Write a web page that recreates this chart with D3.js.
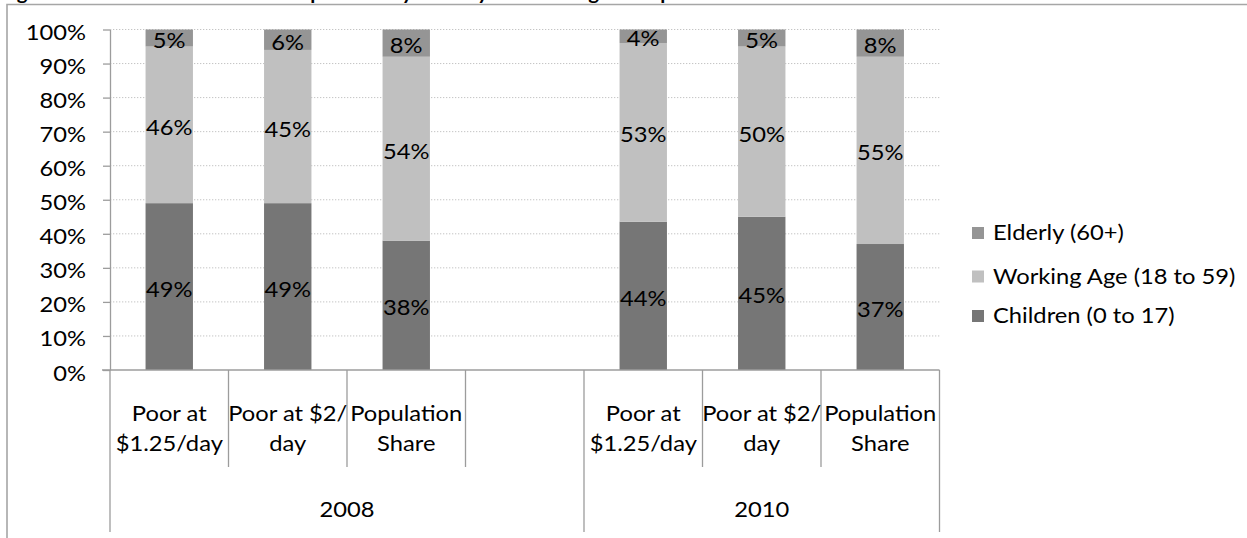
<!DOCTYPE html>
<html>
<head>
<meta charset="utf-8">
<script src="https://cdn.jsdelivr.net/npm/d3@7"></script>
<style>
  html, body { margin: 0; padding: 0; background: #fff; }
  svg { display: block; font-family: Lato, "Open Sans", sans-serif; }
</style>
</head>
<body>
<svg id="chart" width="1247" height="538"></svg>
<script>
// Age composition of the poor versus the whole population
const years = ["2008", "2010"];
const categoryLines = [["Poor at", "$1.25/day"], ["Poor at $2/", "day"], ["Population", "Share"]];
const seriesNames = ["Children (0 to 17)", "Working Age (18 to 59)", "Elderly (60+)"];
const children = [49, 49, 38, 44, 45, 37];
const working  = [46, 45, 54, 53, 50, 55];
const elderly  = [5, 6, 8, 4, 5, 8];
const yTicks = [0, 0.1, 0.2, 0.3, 0.4, 0.5, 0.6, 0.7, 0.8, 0.9, 1];
const titleText = "Figure 4: Share of the Poor and Population by Poverty Line and Age Group";

const colors = { children: "#767676", working: "#c0c0c0", elderly: "#959595" };
const FS = 21, SX = 1.13;   // label font size and horizontal stretch

// slot list: three categories per year with an empty slot between the years
const slots = [];
years.forEach((yr, gi) => {
  categoryLines.forEach((c, ci) => slots.push({ key: yr + "-" + ci, year: yr, ci }));
  if (gi < years.length - 1) slots.push({ key: "gap", year: yr, ci: -1 });
});
const rows = [];
let k = 0;
slots.forEach(s => {
  if (s.ci >= 0) {
    rows.push({ key: s.key, children: children[k], working: working[k], elderly: elderly[k] });
    k++;
  }
});

const svg = d3.select("#chart");
const plotLeft = 110, plotRight = 939.5, plotTop = 29.5, plotBottom = 370;

const x = d3.scaleBand().domain(slots.map(s => s.key)).range([plotLeft, plotRight]).padding(0);
const y = d3.scaleLinear().domain([0, 1]).range([plotBottom, plotTop]);
const barW = x.bandwidth() * 0.4;

function stretchedText(sel, tx, ty, txt, anchor) {
  return sel.append("text")
    .attr("transform", `translate(${tx},${ty}) scale(${SX},1)`)
    .attr("text-anchor", anchor || "middle")
    .attr("font-size", FS)
    .attr("fill", "#000")
    .text(txt);
}

// title (its upper part runs above the frame)
svg.append("text")
  .attr("x", 0).attr("y", 0)
  .attr("font-size", 19).attr("font-weight", "bold")
  .attr("transform", `scale(1.08,1)`)
  .text(titleText);

// outer frame
svg.append("path")
  .attr("d", "M7,538 V4.5 H1247")
  .attr("fill", "none").attr("stroke", "#a6a6a6").attr("stroke-width", 1.6);

// dotted gridlines
svg.append("g").selectAll("line").data(yTicks.slice(1)).join("line")
  .attr("x1", plotLeft).attr("x2", plotRight)
  .attr("y1", d => y(d)).attr("y2", d => y(d))
  .attr("stroke", "#c4c4c4").attr("stroke-width", 1)
  .attr("stroke-dasharray", "1.3,1.7");

// y axis
const yAxis = svg.append("g").attr("transform", `translate(${plotLeft},0)`)
  .call(d3.axisLeft(y).tickValues(yTicks).tickFormat(d3.format(".0%")).tickSize(7).tickSizeOuter(0));
yAxis.select(".domain").attr("stroke", "#9c9c9c").attr("stroke-width", 1.3);
yAxis.selectAll(".tick line").attr("stroke", "#9c9c9c").attr("stroke-width", 1.3);
yAxis.selectAll(".tick text")
  .attr("x", null).attr("dy", null)
  .attr("transform", `translate(-24,10) scale(${SX},1)`)
  .attr("font-size", FS).attr("font-family", "Lato, sans-serif").attr("fill", "#000");

// stacked 100% bars
const keys = ["children", "working", "elderly"];
const stacked = d3.stack().keys(keys).offset(d3.stackOffsetExpand)(rows);
const barG = svg.append("g");
stacked.forEach(layer => {
  const g = barG.append("g");
  g.selectAll("rect").data(layer).join("rect")
    .attr("x", d => x(d.data.key) + (x.bandwidth() - barW) / 2)
    .attr("width", barW)
    .attr("y", d => y(d[1]))
    .attr("height", d => y(d[0]) - y(d[1]))
    .attr("fill", colors[layer.key]);
  layer.forEach(d => {
    const cx = x(d.data.key) + x.bandwidth() / 2;
    const cy = (y(d[0]) + y(d[1])) / 2;
    stretchedText(g, cx, cy + 10, d.data[layer.key] + "%");
  });
});

// x axis line and category separators
const axisColor = "#9c9c9c";
svg.append("line")
  .attr("x1", 102).attr("x2", plotRight).attr("y1", plotBottom).attr("y2", plotBottom)
  .attr("stroke", axisColor).attr("stroke-width", 1.3);

const edges = slots.map(s => x(s.key)).concat([plotRight]);
const groupEdges = [x(slots[0].key), x(slots[4].key), plotRight];
edges.forEach(e => {
  const isGroup = groupEdges.some(g => Math.abs(g - e) < 0.5);
  svg.append("line")
    .attr("x1", e).attr("x2", e)
    .attr("y1", plotBottom).attr("y2", isGroup ? 532 : 467)
    .attr("stroke", axisColor).attr("stroke-width", 1.3);
});

// category labels
const xl = svg.append("g");
slots.forEach(s => {
  if (s.ci < 0) return;
  const cx = x(s.key) + x.bandwidth() / 2;
  categoryLines[s.ci].forEach((line, li) => stretchedText(xl, cx, 420.5 + li * 30, line));
});
// year labels
years.forEach((yr, gi) => {
  const cx = (groupEdges[gi] + groupEdges[gi + 1]) / 2;
  stretchedText(xl, cx, 516.5, yr);
});

// legend (top to bottom: elderly, working age, children)
const legendItems = [
  { name: seriesNames[2], key: "elderly", cy: 233 },
  { name: seriesNames[1], key: "working", cy: 276.5 },
  { name: seriesNames[0], key: "children", cy: 316 }
];
const lg = svg.append("g");
legendItems.forEach(it => {
  lg.append("rect").attr("x", 972).attr("y", it.cy - 6).attr("width", 12).attr("height", 12)
    .attr("fill", colors[it.key]);
  stretchedText(lg, 993, it.cy + 7, it.name, "start");
});
</script>
</body>
</html>
